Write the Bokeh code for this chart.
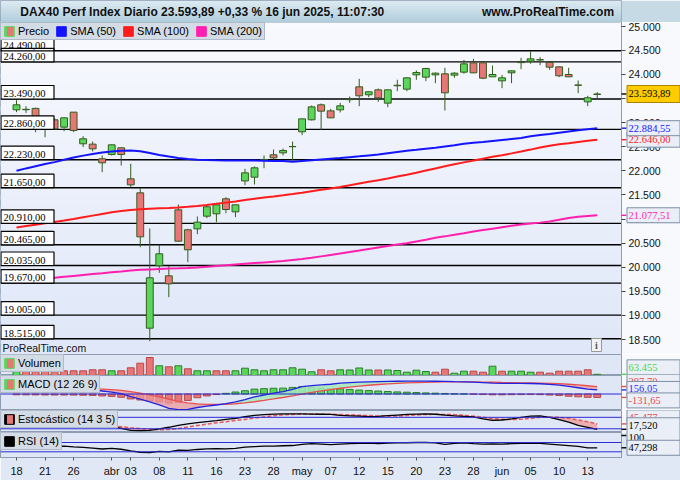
import numpy as np
from bokeh.plotting import figure
from bokeh.layouts import column
from bokeh.models import (Range1d, FixedTicker, CustomJSTickFormatter, Span, Label,
                          Legend, LegendItem, BoxAnnotation, ColumnDataSource)
from bokeh.embed import file_html
from bokeh.resources import INLINE

# ---------------- data ----------------
instrument = "DAX40 Perf Index Diario"
timestamp = "16 jun 2025, 11:07:30"
site = "www.ProRealTime.com"

opens = [23265, 23268, 23295, 22980, 23058, 22906, 23217, 22560, 22553, 22249,
         22339, 22477, 21834, 21543, 18735, 20029, 19821, 21190, 20776, 20796,
         21059, 21108, 21419, 21149, 21790, 21868, 22225, 22332, 22373, 22500,
         22809, 23058, 23369, 23244, 23265, 23475, 23742, 23577, 23680, 23404,
         23765, 23694, 23991, 23943, 23991, 24012, 23985, 24047, 24240, 24240,
         23950, 23867, 24033, 24245, 24275, 24300, 24247, 24157, 23998, 23780,
         23431, 23585]
highs = [23465, 23341, 23310, 23050, 23090, 23105, 23220, 22719, 22608, 22318,
         22545, 22480, 22145, 21647, 20803, 20464, 20022, 21301, 20796, 21052,
         21294, 21336, 21453, 21300, 22041, 22090, 22318, 22442, 22463, 22608,
         23080, 23355, 23397, 23286, 23410, 23542, 23908, 23645, 23708, 23685,
         23888, 23935, 24081, 24137, 24040, 24137, 24047, 24302, 24323, 24245,
         24185, 23991, 24080, 24344, 24482, 24358, 24275, 24160, 24137, 23874,
         23556, 23632]
lows = [23217, 23203, 22802, 22698, 22850, 22823, 22802, 22491, 22401, 21972,
        22318, 22110, 21661, 20416, 18466, 19883, 19379, 20535, 20105, 20686,
        21018, 20935, 21121, 21038, 21702, 21716, 22055, 22235, 22318, 22214,
        22740, 23044, 22850, 23095, 23210, 23410, 23341, 23528, 23431, 23320,
        23652, 23652, 23888, 23860, 23818, 23251, 23929, 24012, 24025, 23901,
        23945, 23715, 23818, 24109, 24220, 24192, 24095, 23943, 23945, 23611,
        23341, 23480]
closes = [23369, 23276, 23010, 22892, 22871, 23099, 22836, 22664, 22456, 22166,
          22539, 22339, 21709, 20630, 19780, 20278, 19655, 20540, 20361, 20935,
          21253, 21294, 21197, 21294, 21958, 22062, 22235, 22269, 22421, 22505,
          23078, 23327, 23238, 23099, 23348, 23485, 23556, 23639, 23514, 23680,
          23775, 23929, 24040, 24123, 24026, 23618, 24026, 24219, 24033, 23922,
          23998, 23929, 24074, 24252, 24323, 24306, 24150, 23971, 23950, 23775,
          23516, 23593.89]

sma50 = [22000, 22050, 22095, 22140, 22180, 22230, 22276, 22315, 22350, 22378,
         22400, 22418, 22422, 22405, 22370, 22330, 22295, 22265, 22245, 22230,
         22222, 22218, 22215, 22214, 22214, 22212, 22208, 22205, 22202, 22190,
         22205, 22220, 22235, 22250, 22265, 22283, 22300, 22320, 22340, 22365,
         22390, 22415, 22436, 22458, 22480, 22505, 22530, 22560, 22583, 22600,
         22620, 22640, 22660, 22680, 22715, 22745, 22765, 22790, 22815, 22840,
         22862, 22884.55]
sma100 = [20825, 20855, 20882, 20910, 20938, 20968, 21000, 21035, 21070, 21105,
          21140, 21165, 21185, 21200, 21212, 21222, 21230, 21240, 21255, 21272,
          21292, 21315, 21340, 21365, 21395, 21420, 21445, 21468, 21492, 21518,
          21545, 21575, 21605, 21635, 21665, 21700, 21738, 21772, 21806, 21842,
          21880, 21917, 21960, 22005, 22050, 22093, 22135, 22175, 22214, 22252,
          22290, 22325, 22362, 22400, 22440, 22483, 22522, 22550, 22573, 22598,
          22622, 22646.00]
sma200 = [19680, 19705, 19730, 19755, 19780, 19800, 19820, 19840, 19858, 19875,
          19893, 19911, 19930, 19945, 19955, 19965, 19972, 19978, 19985, 19995,
          20010, 20025, 20040, 20055, 20070, 20085, 20100, 20115, 20130, 20150,
          20170, 20195, 20225, 20255, 20285, 20315, 20345, 20380, 20410, 20440,
          20470, 20498, 20535, 20570, 20610, 20640, 20672, 20705, 20740, 20770,
          20800, 20830, 20860, 20885, 20905, 20925, 20950, 20985, 21020, 21045,
          21062, 21077.51]

volume = [248000, 237000, 259000, 275000, 248000, 259000, 259000, 259000, 314000, 314000,
          259000, 259000, 424000, 677000, 990000, 534000, 479000, 534000, 369000, 259000,
          259000, 259000, 259000, 259000, 402000, 314000, 259000, 314000, 314000, 424000,
          347000, 204000, 314000, 259000, 314000, 303000, 413000, 303000, 303000, 303000,
          275000, 182000, 292000, 220000, 182000, 347000, 127000, 237000, 237000, 182000,
          512000, 237000, 237000, 237000, 182000, 182000, 127000, 237000, 237000, 237000,
          314000, 63455]
volume_dir = list("GRRRRRRRRR" "GRRRRGRGRG" "GRRGGGGGGG" "GGRRGGGGRG"
                  "GGGGRRGGRR" "GRGGGRRRRR" "RG")

macd = [260, 250, 240, 228, 215, 205, 192, 175, 154, 115,
        75, 10, -100, -200, -300, -420, -550, -600, -590, -520,
        -470, -423, -370, -300, -220, -110, -40, 30, 90, 180,
        280, 320, 350, 375, 420, 440, 455, 470, 478, 485,
        490, 495, 495, 492, 490, 485, 475, 468, 460, 440,
        420, 411, 411, 410, 405, 395, 370, 340, 290, 240,
        190, 156.05]
macd_signal = [290, 282, 274, 265, 255, 245, 234, 222, 209, 190,
               167, 136, 89, 31, -35, -112, -200, -280, -342, -377,
               -396, -401, -395, -376, -345, -298, -246, -191, -135, -72,
               -1, 63, 120, 171, 221, 265, 303, 336, 365, 389,
               409, 426, 440, 450, 458, 464, 466, 466, 465, 460,
               452, 444, 437, 432, 426, 420, 410, 396, 375, 348,
               318, 287.70]
macd_hist = [-30, -32, -34, -37, -40, -40, -42, -47, -55, -75,
             -92, -126, -189, -231, -265, -308, -350, -320, -248, -143,
             -74, -22, 25, 76, 125, 188, 206, 221, 225, 252,
             281, 257, 230, 204, 199, 175, 152, 134, 113, 96,
             81, 69, 55, 42, 32, 21, 9, 2, -5, -20,
             -32, -33, -26, -22, -21, -25, -40, -56, -85, -108,
             -128, -131.65]

stoch_k = [60, 55, 50, 45, 40, 42, 38, 34, 30, 30,
           32, 22, 12, 10, 12, 20, 28, 38, 46, 52,
           58, 63, 69, 75, 83, 90, 94, 97, 98, 98,
           98, 97, 96, 95, 90, 88, 86, 84, 85, 89,
           92, 95, 97, 98, 96, 92, 88, 85, 82, 72,
           64, 66, 72, 80, 86, 88, 80, 68, 55, 38,
           28, 17.520]
stoch_d = [65, 62, 58, 54, 50, 46, 44, 40, 37, 34,
           33, 31, 25, 21, 18, 15, 16, 22, 29, 37,
           44, 51, 57, 63, 69, 76, 82, 88, 93, 95,
           97, 97, 97, 96, 95, 93, 91, 89, 87, 86,
           87, 89, 92, 95, 96, 95, 94, 90, 86, 80,
           74, 70, 68, 70, 74, 80, 82, 80, 75, 66,
           57, 45.477]
rsi = [58, 57, 55, 54, 53, 54, 51, 49, 46, 42,
       45, 41, 34, 28, 27, 32, 30, 37, 36, 40,
       43, 44, 43, 45, 50, 52, 54, 54, 56, 57,
       62, 65, 63, 61, 63, 65, 66, 67, 65, 67,
       68, 69, 70, 70, 68, 62, 66, 68, 65, 63,
       64, 63, 65, 66, 67, 66, 63, 60, 57, 53,
       47, 47.298]

levels = [24490, 24260, 23490, 22860, 22230, 21650, 20910, 20465, 20035, 19670, 19005, 18515]
price_ticks = [18500, 19000, 19500, 20000, 20500, 21000, 21500, 22000, 22500,
               23000, 23500, 24000, 24500, 25000]
tick_idx = [0, 3, 6, 10, 12, 15, 18, 21, 24, 27, 30, 33, 36, 39, 42, 45, 48, 51, 54, 57, 60]
tick_labels = ["18", "21", "26", "abr", "03", "08", "11", "16", "23", "28", "may",
               "07", "12", "15", "20", "23", "28", "jun", "05", "10", "13"]

# ---------------- layout / style ----------------
W = 680
RB = 59
H_HEAD, H_MAIN, H_VOL, H_MACD, H_STO, H_RSI, H_XAX = 22, 332, 21, 35, 22, 25, 23
X0, X1 = -1.68, 63.55
P_LO, P_HI = 18189, 25077
PXD = (W - RB) / (X1 - X0)          # screen px per day
FONT = "Liberation Sans"
SEP = "#8d9cb0"
PANEL = "#dfe6f5"
BORDER = "#f7f9fc"
GREEN, GREEN_D = "#5ad65a", "#2a7f2a"
RED, RED_D = "#e87676", "#b84848"
WICK = "#345c1e"
NAN = float("nan")
FRAME_H = {}

days = list(range(len(closes)))
xr = Range1d(X0, X1)


def de(v, d=2):
    s = f"{v:,.{d}f}"
    return s.replace(",", "X").replace(".", ",").replace("X", ".")


def mix(c1, c2, f):
    return "#%02x%02x%02x" % tuple(int(round(a + (b - a) * f)) for a, b in zip(c1, c2))


def make(h, yr, right_axis=False, bottom_axis=False):
    p = figure(width=W, height=h, x_range=xr, y_range=Range1d(*yr),
               toolbar_location=None, output_backend="svg",
               x_axis_location="below" if bottom_axis else None,
               y_axis_location="right" if right_axis else None,
               min_border_left=0, min_border_right=RB, min_border_top=0,
               min_border_bottom=H_XAX if bottom_axis else 0)
    p.grid.visible = False
    p.background_fill_color = PANEL
    p.border_fill_color = BORDER
    p.outline_line_color = SEP
    FRAME_H[p.id] = h - (H_XAX if bottom_axis else 0)
    return p


def pxu(p):
    return FRAME_H[p.id] / (p.y_range.end - p.y_range.start)


def boxes(p, lefts, rights, bottoms, tops, fill, edge, level="glyph", lw=1.2):
    """filled boxes with an explicit outline path"""
    p.quad(left=lefts, right=rights, bottom=bottoms, top=tops, fill_color=fill,
           line_color=None, level=level)
    xs = [[l, r, r, l, l] for l, r in zip(lefts, rights)]
    ys = [[b, b, t, t, b] for b, t in zip(bottoms, tops)]
    p.multi_line(xs=xs, ys=ys, line_color=edge, line_width=lw, level=level)


def legend(p, entries, pad=2):
    items = []
    for label, fill, hatch in entries:
        kw = dict(fill_color=fill, line_color=fill)
        if hatch:
            kw.update(hatch_pattern="vertical_line", hatch_color=hatch,
                      hatch_weight=6, hatch_scale=12, hatch_alpha=1.0)
        r = p.quad(left=[NAN], right=[NAN], top=[NAN], bottom=[NAN], **kw)
        items.append(LegendItem(label=label, renderers=[r]))
    lg = Legend(items=items, location="top_left", orientation="horizontal", margin=0,
                padding=pad, spacing=6, glyph_width=12, glyph_height=12, label_height=12,
                label_standoff=3, label_text_font=FONT, label_text_font_size="11px",
                label_text_color="black", background_fill_color="#d3dbe4",
                background_fill_alpha=1.0, border_line_color="#8b9bb0")
    p.add_layout(lg)


def side(p, value, text, color, bg="#eaeff7", border="#7d8ea5", shift=0.0, h=15):
    """value box in the right margin; shift = screen px upward from the value."""
    u = pxu(p)
    yc = value + shift / u
    p.quad(left=[X1], right=[X1 + 5 / PXD], bottom=[value - 0.7 / u], top=[value + 0.7 / u],
           fill_color=color, line_color=None, level="overlay")
    boxes(p, [X1 + 5.5 / PXD], [X1 + 58.5 / PXD], [yc - h / 2 / u], [yc + h / 2 / u],
          bg, border, level="overlay", lw=1.0)
    p.text(x=[X1], y=[yc], text=[text], x_offset=7, text_color=color, text_font=FONT,
           text_font_size="10.5px", text_baseline="middle", text_align="left",
           level="overlay")


# ---------------- header ----------------
head = figure(width=W, height=H_HEAD, x_range=Range1d(0, 1), y_range=Range1d(0, 1),
              toolbar_location=None, output_backend="svg",
              x_axis_location=None, y_axis_location=None,
              min_border_left=0, min_border_right=0, min_border_top=0, min_border_bottom=0)
head.grid.visible = False
head.background_fill_color = "#c6dae6"
head.border_fill_color = "#c6dae6"
head.outline_line_color = SEP
for i in range(8):
    head.add_layout(BoxAnnotation(bottom=1 - (i + 1.4) / 8, top=1 - i / 8,
                                  fill_color=mix((218, 233, 241), (178, 206, 221), i / 7),
                                  fill_alpha=1.0, line_alpha=0, level="underlay"))
pct = (closes[-1] / closes[-2] - 1) * 100
title_txt = f"{instrument} {de(closes[-1])} {'+' if pct >= 0 else ''}{de(pct)} % {timestamp}"
head.add_layout(Label(x=0.032, y=0.5, text=title_txt, text_font=FONT, text_font_size="12px",
                      text_font_style="bold", text_baseline="middle", text_color="#111111"))
head.add_layout(Label(x=0.988, y=0.5, text=site, text_font=FONT, text_font_size="12px",
                      text_font_style="bold", text_baseline="middle", text_align="right",
                      text_color="#111111"))

# ---------------- main price panel ----------------
main = make(H_MAIN, (P_LO, P_HI), right_axis=True)
main.background_fill_color = "#f7f9fe"
nb = 30
for i in range(nb):
    main.add_layout(BoxAnnotation(bottom=P_LO + (P_HI - P_LO) * (1 - (i + 1) / nb),
                                  top=P_LO + (P_HI - P_LO) * (1 - (i - 0.4) / nb),
                                  fill_color=mix((248, 249, 254), (223, 231, 248), i / (nb - 1)),
                                  fill_alpha=1.0, line_alpha=0, level="underlay"))
for lv in levels:
    main.add_layout(Span(location=lv, dimension="width", line_color="black",
                         line_width=1.4, level="underlay"))

ax = main.yaxis[0]
ax.ticker = FixedTicker(ticks=price_ticks)
ax.formatter = CustomJSTickFormatter(
    code=r"return tick.toFixed(0).replace(/\B(?=(\d{3})+(?!\d))/g, '.');")
ax.major_label_text_font = FONT
ax.major_label_text_font_size = "10.5px"
ax.major_label_text_color = "#111111"
ax.axis_line_color = SEP
ax.major_tick_line_color = "#444444"
ax.major_tick_out = 4
ax.major_tick_in = 0
ax.minor_tick_out = 0
ax.minor_tick_in = 0
ax.major_label_standoff = 3

up = [c >= o for o, c in zip(opens, closes)]
csrc = ColumnDataSource(dict(
    x=days, low=lows, high=highs,
    top=[max(o, c) for o, c in zip(opens, closes)],
    bot=[min(o, c) for o, c in zip(opens, closes)],
    fill=[GREEN if u else RED for u in up]))
main.segment(x0="x", y0="low", x1="x", y1="high", source=csrc, line_color=WICK, line_width=1)
main.vbar(x="x", top="top", bottom="bot", width=0.72, source=csrc,
          fill_color="fill", line_color=WICK, line_width=1)

main.line(days, sma200, line_color="#ff1fae", line_width=2)
main.line(days, sma100, line_color="#ff1c1c", line_width=2)
main.line(days, sma50, line_color="#1414ff", line_width=2)

# support / resistance value boxes on the left edge
pu = pxu(main)
n_lv = len(levels)
boxes(main, [X0 + 0.5 / PXD] * n_lv, [X0 + 53.5 / PXD] * n_lv,
      levels, [lv + 13.5 / pu for lv in levels], "white", "black")
main.text(x=[X0] * n_lv, y=levels, text=[de(v) for v in levels], x_offset=3,
          y_offset=-2, text_font=FONT, text_font_size="10.5px", text_baseline="bottom",
          text_color="black")

main.add_layout(Label(x=X0, y=P_LO, x_offset=2, y_offset=1, text="ProRealTime.com",
                      text_font=FONT, text_font_size="10.5px", text_baseline="bottom",
                      text_color="#111111"))
boxes(main, [X1 - 30 / PXD], [X1 - 20 / PXD], [P_LO + 3 / pu], [P_LO + 16 / pu],
      "#f2f2f2", "#9a9a9a", lw=1.0)
main.text(x=[X1 - 25 / PXD], y=[P_LO + 9.5 / pu], text=["i"], text_align="center",
          text_baseline="middle", text_font=FONT, text_font_size="10px",
          text_font_style="bold", text_color="#555555")

legend(main, [("Precio", GREEN, RED), ("SMA (50)", "#1414ff", None),
              ("SMA (100)", "#ff1c1c", None), ("SMA (200)", "#ff1fae", None)])

side(main, sma200[-1], de(sma200[-1]), "#ff1fae")
side(main, sma100[-1], de(sma100[-1]), "#ff1c1c")
side(main, sma50[-1], de(sma50[-1]), "#1414ff")
side(main, closes[-1], de(closes[-1]), "black", bg="#ffcc00", border="#a88400", h=17)

# ---------------- volume ----------------
pv = make(H_VOL, (0, 1155000))
vsrc = ColumnDataSource(dict(x=days, v=volume,
                             fill=[GREEN if d == "G" else RED for d in volume_dir],
                             line=[GREEN_D if d == "G" else RED_D for d in volume_dir]))
pv.vbar(x="x", top="v", bottom=0, width=0.72, source=vsrc, fill_color="fill", line_color="line")
legend(pv, [("Volumen", GREEN, RED)])
side(pv, volume[-1], de(volume[-1], 0), "#44d844", shift=7)

# ---------------- MACD ----------------
pm = make(H_MACD, (-635, 712))
pm.add_layout(Span(location=0, dimension="width", line_color="#2b2bd6", line_width=1))
hsrc = ColumnDataSource(dict(x=days, h=macd_hist,
                             fill=[GREEN if h >= 0 else RED for h in macd_hist],
                             line=[GREEN_D if h >= 0 else RED_D for h in macd_hist]))
pm.vbar(x="x", top="h", bottom=0, width=0.72, source=hsrc, fill_color="fill", line_color="line")
m_arr = np.array(macd, dtype=float)
s_arr = np.array(macd_signal, dtype=float)
hi_arr = np.maximum(m_arr, s_arr)
pm.varea(x=days, y1=m_arr, y2=hi_arr, fill_color="#ec9a9a", fill_alpha=0.75)
pm.varea(x=days, y1=s_arr, y2=hi_arr, fill_color="#a6e8bb", fill_alpha=0.85)
pm.line(days, macd_signal, line_color="#e85050", line_width=1.3)
pm.line(days, macd, line_color="#2424e0", line_width=1.3)
legend(pm, [("MACD (12 26 9)", GREEN, RED)])
side(pm, macd_signal[-1], de(macd_signal[-1]), "#e84c4c", shift=5)
side(pm, macd[-1], de(macd[-1]), "#2a2aff", shift=1)
side(pm, macd_hist[-1], de(macd_hist[-1]), "#e84c4c", shift=-3)

# ---------------- Stochastic ----------------
ps = make(H_STO, (0.6, 115.7))
for lv in (80, 20):
    ps.add_layout(Span(location=lv, dimension="width", line_color="#2b2bd6", line_width=1))
k_arr = np.array(stoch_k, dtype=float)
d_arr = np.array(stoch_d, dtype=float)
ps.varea(x=days, y1=k_arr, y2=np.maximum(k_arr, d_arr), fill_color="#f0a0a0", fill_alpha=0.8)
ps.line(days, stoch_d, line_color="#e85a5a", line_width=1.5, line_dash="4 2")
ps.line(days, stoch_k, line_color="black", line_width=1.3)
legend(ps, [("Estocástico (14 3 5)", "black", RED)])
side(ps, stoch_d[-1], de(stoch_d[-1], 3), "#e84c4c", shift=6.5)
side(ps, stoch_k[-1], de(stoch_k[-1], 3), "black", shift=4)

# ---------------- RSI + date axis ----------------
pr = make(H_RSI + H_XAX, (5.5, 113), bottom_axis=True)
pr.border_fill_color = "#e1e8f5"
for lv in (70, 30):
    pr.add_layout(Span(location=lv, dimension="width", line_color="#2b2bd6", line_width=1))
pr.line(days, rsi, line_color="black", line_width=1.3)
legend(pr, [("RSI (14)", "black", None)])
side(pr, 100, "100", "black", shift=-2)
side(pr, rsi[-1], de(rsi[-1], 3), "black")

xa = pr.xaxis[0]
xa.ticker = FixedTicker(ticks=tick_idx)
xa.major_label_overrides = {int(k): v for k, v in zip(tick_idx, tick_labels)}
xa.major_label_text_font = FONT
xa.major_label_text_font_size = "11px"
xa.major_label_text_color = "#111111"
xa.axis_line_color = SEP
xa.major_tick_line_color = "#555555"
xa.major_tick_out = 3
xa.major_tick_in = 0
xa.minor_tick_out = 0
xa.minor_tick_in = 0
xa.major_label_standoff = 4

layout = column(head, main, pv, pm, ps, pr, spacing=0)

with open("out.html", "w", encoding="utf-8") as fh:
    fh.write(file_html(layout, INLINE))
